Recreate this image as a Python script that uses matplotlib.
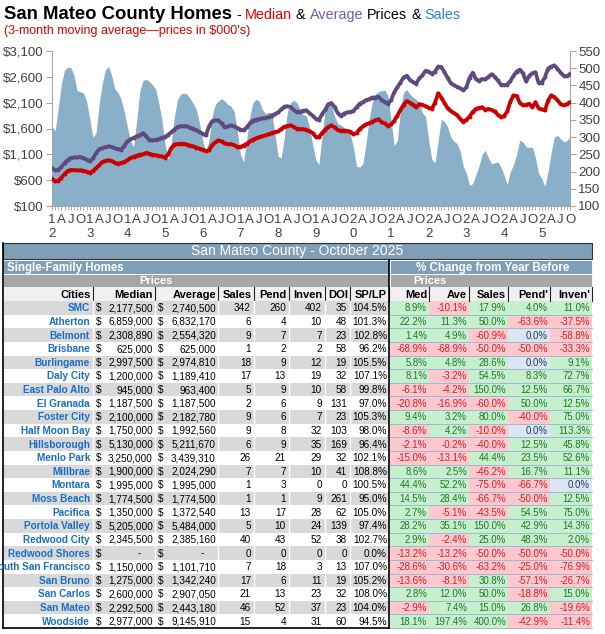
import matplotlib
matplotlib.use("Agg")
import matplotlib.pyplot as plt
from matplotlib.patches import Rectangle
import numpy as np

# ---- chart data: 3-month moving averages, Jan 2012 .. Oct 2025 ----
start_year = 2012
median = [
    630, 575, 590, 650, 720, 780, 800, 795, 790, 790, 785, 765,              # 2012
    740, 780, 830, 890, 950, 975, 985, 970, 940, 920, 935, 950,              # 2013
    990, 1030, 1050, 1075, 1095, 1100, 1130, 1115, 1095, 1080, 1070, 1060,   # 2014
    1035, 1100, 1220, 1290, 1300, 1305, 1305, 1290, 1270, 1255, 1230, 1210,  # 2015
    1190, 1165, 1180, 1280, 1330, 1370, 1350, 1310, 1300, 1295, 1280, 1245,  # 2016
    1245, 1270, 1305, 1350, 1385, 1410, 1435, 1450, 1465, 1490, 1515, 1530,  # 2017
    1545, 1590, 1635, 1650, 1660, 1630, 1595, 1590, 1585, 1577, 1550, 1515,  # 2018
    1440, 1430, 1510, 1580, 1630, 1660, 1620, 1570, 1560, 1560, 1555, 1540,  # 2019
    1490, 1510, 1590, 1640, 1680, 1700, 1730, 1760, 1780, 1720, 1700, 1650,  # 2020
    1680, 1750, 1850, 1960, 2060, 2130, 2100, 2060, 2010, 2070, 2060, 2030,  # 2021
    2000, 1985, 2100, 2280, 2200, 2100, 1990, 1940, 1900, 1860, 1790, 1730,  # 2022
    1770, 1830, 1920, 1980, 2000, 2010, 1960, 1980, 1960, 1930, 1870, 1820,  # 2023
    1840, 1930, 2120, 2240, 2230, 2100, 2050, 2060, 2080, 2010, 2110, 1990,  # 2024
    1970, 1950, 2140, 2240, 2210, 2150, 2070, 2050, 2070, 2110,              # 2025
]
average = [
    835, 790, 800, 860, 930, 990, 1030, 1040, 1040, 1048, 1030, 1000,
    970, 1020, 1120, 1200, 1220, 1240, 1255, 1240, 1220, 1200, 1190, 1260,
    1350, 1390, 1420, 1450, 1470, 1510, 1450, 1380, 1370, 1380, 1395, 1420,
    1435, 1480, 1530, 1580, 1630, 1645, 1645, 1640, 1615, 1595, 1565, 1530,
    1500, 1465, 1640, 1740, 1760, 1755, 1700, 1620, 1640, 1660, 1640, 1615,
    1580, 1565, 1620, 1700, 1750, 1770, 1785, 1795, 1805, 1820, 1850, 1880,
    1910, 1970, 2025, 2030, 2015, 1960, 1920, 1925, 1945, 1950, 1900, 1850,
    1790, 1760, 1880, 1960, 2070, 2090, 2020, 1900, 1840, 1890, 1910, 1920,
    1940, 2010, 2080, 2110, 2150, 2165, 2200, 2200, 2215, 2150, 2110, 2080,
    2150, 2300, 2400, 2490, 2590, 2620, 2540, 2500, 2470, 2570, 2630, 2720,
    2700, 2660, 2700, 2800, 2790, 2690, 2580, 2480, 2440, 2410, 2380, 2340,
    2400, 2580, 2680, 2560, 2520, 2560, 2550, 2600, 2650, 2600, 2530, 2450,
    2440, 2450, 2520, 2620, 2700, 2740, 2670, 2510, 2620, 2670, 2690, 2480,
    2490, 2590, 2760, 2800, 2820, 2760, 2680, 2620, 2610, 2660,
]
sales = [
    331, 318, 385, 455, 495, 503, 502, 480, 435, 432, 428, 405,
    355, 300, 310, 395, 455, 495, 505, 480, 440, 430, 410, 375,
    330, 290, 272, 350, 435, 465, 468, 462, 452, 440, 400, 350,
    280, 235, 285, 360, 410, 425, 428, 425, 412, 398, 380, 340,
    290, 258, 290, 360, 395, 405, 412, 405, 395, 390, 375, 320,
    250, 228, 290, 360, 400, 410, 405, 380, 368, 372, 370, 310,
    245, 240, 300, 375, 400, 407, 400, 380, 365, 362, 330, 280,
    235, 220, 300, 380, 405, 395, 360, 340, 335, 328, 322, 310,
    270, 215, 213, 222, 280, 350, 400, 425, 432, 435, 436, 421,
    350, 275, 290, 380, 430, 438, 425, 416, 410, 400, 370, 360,
    290, 235, 225, 290, 352, 345, 330, 300, 288, 282, 260, 215,
    195, 160, 165, 190, 215, 250, 262, 240, 223, 225, 228, 213,
    190, 162, 200, 220, 250, 291, 286, 272, 270, 271, 240, 195,
    180, 157, 200, 255, 300, 305, 295, 286, 290, 300,
]

# ---- table data ----
cities = ["SMC", "Atherton", "Belmont", "Brisbane", "Burlingame", "Daly City",
          "East Palo Alto", "El Granada", "Foster City", "Half Moon Bay",
          "Hillsborough", "Menlo Park", "Millbrae", "Montara", "Moss Beach",
          "Pacifica", "Portola Valley", "Redwood City", "Redwood Shores",
          "South San Francisco", "San Bruno", "San Carlos", "San Mateo", "Woodside"]
med_price = [2177500, 6859000, 2308890, 625000, 2997500, 1200000, 945000, 1187500,
             2100000, 1750000, 5130000, 3250000, 1900000, 1995000, 1774500, 1350000,
             5205000, 2345500, 0, 1150000, 1275000, 2600000, 2292500, 2977000]
avg_price = [2740500, 6832170, 2554320, 625000, 2974810, 1189410, 963400, 1187500,
             2182780, 1992560, 5211670, 3439310, 2024290, 1995000, 1774500, 1372540,
             5484000, 2385160, 0, 1101710, 1342240, 2907050, 2443180, 9145910]
n_sales = [342, 6, 9, 1, 18, 17, 5, 2, 9, 9, 6, 26, 7, 1, 1, 13, 5, 40, 0, 7, 17, 21, 46, 15]
n_pend = [260, 4, 7, 2, 9, 13, 9, 6, 6, 8, 9, 21, 7, 3, 1, 17, 10, 43, 0, 18, 6, 13, 52, 4]
n_inven = [402, 10, 7, 2, 12, 19, 10, 9, 7, 32, 35, 29, 10, 0, 9, 28, 24, 52, 0, 3, 11, 23, 37, 31]
doi = [35, 48, 23, 58, 19, 32, 58, 131, 23, 103, 169, 32, 41, 0, 261, 62, 139, 38, 0, 13, 19, 32, 23, 60]
sp_lp = [104.5, 101.3, 102.8, 96.2, 105.5, 107.1, 99.8, 97.0, 105.3, 98.0, 96.4, 102.1,
         108.8, 100.5, 95.0, 105.0, 97.4, 102.7, 0.0, 107.0, 105.2, 108.0, 104.0, 94.5]
chg_med = [8.9, 22.2, 1.4, -68.9, 5.8, 8.1, -6.1, -20.8, 9.4, -8.6, -2.1, -15.0,
           8.6, 44.4, 14.5, 2.7, 28.2, 2.9, -13.2, -28.6, -13.6, 2.8, -2.9, 18.1]
chg_ave = [-10.1, 11.3, 4.9, -68.9, 4.8, -3.2, -4.2, -16.9, 3.2, 4.2, -0.2, -13.1,
           2.5, 52.2, 28.4, -5.1, 35.1, -2.4, -13.2, -30.6, -8.1, 12.0, 7.4, 197.4]
chg_sales = [17.9, 50.0, -60.9, -50.0, 28.6, 54.5, 150.0, -60.0, 80.0, -10.0, -40.0, 44.4,
             -46.2, -75.0, -66.7, -43.5, 150.0, 25.0, -50.0, -63.2, 30.8, 50.0, 15.0, 400.0]
chg_pend = [4.0, -63.6, 0.0, -50.0, 0.0, 8.3, 12.5, 50.0, -40.0, 0.0, 12.5, 23.5,
            16.7, -66.7, -50.0, 54.5, 42.9, 48.3, -50.0, -25.0, -57.1, -18.8, 26.8, -42.9]
chg_inven = [11.0, -37.5, -58.8, -33.3, 9.1, 72.7, 66.7, 12.5, 75.0, 113.3, 45.8, 52.6,
             11.1, 0.0, 12.5, 75.0, 14.3, 2.0, -50.0, -76.9, -26.7, 15.0, -19.6, -11.4]

# ---- styling ----
plt.rcParams["font.family"] = ["Liberation Sans", "DejaVu Sans"]

RED = "#cc0000"
PURPLE = "#5f4a80"
AREA = "#8aafc9"
SPINE = "#a6a6a6"
TXT = "#404040"
BAR = "#7f9fb8"

W, H = 605, 634
fig = plt.figure(figsize=(W / 100, H / 100), dpi=100)


def box(x0, y0, x1, y1):
    return [x0 / W, 1 - y1 / H, (x1 - x0) / W, (y1 - y0) / H]


# ---- chart: sales area (right scale) under price lines (left scale) ----
x = np.arange(len(sales))
ax = fig.add_axes(box(52, 51, 570, 206))
ax.fill_between(x, 100, sales, color=AREA, lw=0)
ax.set_ylim(100, 550)
ax.set_xlim(0, len(sales) - 1)
ax.set_yticks(range(100, 551, 50))
ax.spines["top"].set_visible(False)
for s in ["left", "right", "bottom"]:
    ax.spines[s].set_color(SPINE)

major = list(range(0, len(sales), 3))
labels = []
for m in major:
    if m % 12 == 0:
        yy = str(start_year + m // 12)[2:]
        labels.append(yy[0] + "\n" + yy[1])
    else:
        labels.append("AJO"[(m % 12) // 3 - 1])
ax.set_xticks(major)
ax.set_xticklabels(labels, linespacing=1.15)
ax.set_xticks(x, minor=True)
ax.tick_params(axis="x", which="both", direction="out", length=3, color=SPINE,
               labelsize=9.5, labelcolor=TXT, pad=3)

axp = ax.twinx()
axp.plot(x, median, color=RED, lw=2.7, marker="o", ms=2.8, mew=0, solid_joinstyle="round")
axp.plot(x, average, color=PURPLE, lw=2.7, marker="o", ms=2.8, mew=0, solid_joinstyle="round")
axp.set_ylim(100, 3100)
axp.set_yticks(range(100, 3101, 500))
axp.set_yticklabels([f"${v:,}" for v in range(100, 3101, 500)])
for s in axp.spines.values():
    s.set_visible(False)

# twinx moves the original ticks to the left, so swap them back here
ax.yaxis.tick_right()
axp.yaxis.tick_left()
ax.tick_params(axis="y", direction="out", length=4, color=SPINE,
               labelsize=9.5, labelcolor=TXT, pad=2)
axp.tick_params(axis="y", direction="out", length=4, color=SPINE,
                labelsize=9.5, labelcolor=TXT, pad=2)

# ---- overlay in pixel coordinates ----
ov = fig.add_axes([0, 0, 1, 1])
ov.set_xlim(0, W)
ov.set_ylim(H, 0)
ov.axis("off")
rend = fig.canvas.get_renderer()


def run_text(x0, y0, parts):
    for s, c, wt, fs, gap in parts:
        t = ov.text(x0, y0, s, color=c, fontsize=fs, fontweight=wt, va="baseline", ha="left")
        x0 += t.get_window_extent(renderer=rend).width + gap


run_text(4, 19, [("San Mateo County Homes", "black", "bold", 13.3, 4),
                 ("-", "black", "normal", 10.4, 4),
                 ("Median", "#e00000", "normal", 10.4, 4),
                 ("&", "black", "normal", 10.4, 4),
                 ("Average", "#7a5aa6", "normal", 10.4, 4),
                 ("Prices", "black", "normal", 10.4, 4),
                 ("&", "black", "normal", 10.4, 4),
                 ("Sales", "#2a86d0", "normal", 10.4, 0)])
ov.text(4, 34, "(3-month moving average\u2014prices in $000's)", color="#e00000",
        fontsize=9, va="baseline", ha="left")

# ---- table ----
L, R, MID = 3, 592, 389
ov.add_patch(Rectangle((L, 243), R - L, 16, fc=BAR, ec="#333333", lw=0.8))
ov.text((L + R) / 2, 251.5, "San Mateo County - October 2025", color="white",
        fontsize=10, ha="center", va="center")

ov.add_patch(Rectangle((L, 260), MID - L, 14, fc=BAR, ec="white", lw=0.6))
ov.add_patch(Rectangle((MID + 1, 260), R - MID - 1, 14, fc=BAR, ec="white", lw=0.6))
ov.text(7, 267.5, "Single-Family Homes", color="white", fontsize=8.3,
        fontweight="bold", ha="left", va="center")
ov.text((MID + R) / 2 + 2, 267.5, "% Change from Year Before", color="white", fontsize=8.4,
        fontweight="bold", ha="center", va="center")

ov.add_patch(Rectangle((L, 274), MID - L, 13, fc="#a6a6a6", ec="white", lw=0.6))
ov.add_patch(Rectangle((MID + 1, 274), R - MID - 1, 13, fc="#a6a6a6", ec="white", lw=0.6))
ov.text(156, 281, "Prices", color="white", fontsize=8, fontweight="bold",
        ha="center", va="center")
ov.text(430, 281, "Prices", color="white", fontsize=8, fontweight="bold",
        ha="center", va="center")

left_cols = [L, 93, 155, 218, 254, 289, 325, 350, MID]
right_cols = [MID + 1, 429, 469, 508, 550, R]
heads_l = ["Cities", "Median", "Average", "Sales", "Pend", "Inven", "DOI", "SP/LP"]
heads_r = ["Med", "Ave", "Sales", "Pend'", "Inven'"]
HY0, HY1 = 287, 301
ov.add_patch(Rectangle((L, HY0), R - L, HY1 - HY0, fc="#f0f0f0", ec="none"))
for i, h in enumerate(heads_l):
    ov.text(left_cols[i + 1] - 2, (HY0 + HY1) / 2 + 0.5, h, fontsize=8,
            fontweight="bold", ha="right", va="center", color="black")
    ov.plot([left_cols[i + 1]] * 2, [HY0, HY1], color="#222222", lw=0.8)
for i, h in enumerate(heads_r):
    ov.text(right_cols[i + 1] - 2, (HY0 + HY1) / 2 + 0.5, h, fontsize=8,
            fontweight="bold", ha="right", va="center", color="black")
    ov.plot([right_cols[i + 1]] * 2, [HY0, HY1], color="#222222", lw=0.8)

RH = 13.625
Y0 = 301
clip = Rectangle((L, 243), R - L, 400, transform=ov.transData)
FS = 7.2
PFS = 6.9


def money(v):
    return f"{v:,}" if v else "-"


def pct_cell(x0, x1, y, v):
    if v > 0:
        fc, tc = "#c6efce", "#1f7a1f"
    elif v < 0:
        fc, tc = "#ffc7ce", "#d42020"
    else:
        fc, tc = "#dce6f1", "#1f3a5f"
    ov.add_patch(Rectangle((x0, y), x1 - x0, RH, fc=fc, ec="none"))
    ov.text(x1 - 2, y + RH / 2 + 0.5, f"{v:.1f}%", color=tc, fontsize=PFS,
            ha="right", va="center")


for r, city in enumerate(cities):
    y = Y0 + r * RH
    yc = y + RH / 2 + 0.5
    fc = "#d9d9d9" if r % 2 == 0 else "white"
    ov.add_patch(Rectangle((L, y), MID - L, RH, fc=fc, ec="none"))
    for cx in left_cols[1:-1]:
        ov.plot([cx, cx], [y, y + RH], color="white", lw=1.0)
    t = ov.text(left_cols[1] - 3, yc, city, color="#1a6fc4", fontsize=7.2,
                fontweight="bold", ha="right", va="center")
    t.set_clip_path(clip)
    for ci, vals in ((1, med_price), (2, avg_price)):
        x0, x1 = left_cols[ci], left_cols[ci + 1]
        ov.text(x0 + 3, yc, "$", fontsize=FS, ha="left", va="center")
        off = 2 if vals[r] else 14
        ov.text(x1 - off, yc, money(vals[r]), fontsize=FS, ha="right", va="center")
    for ci, vals in ((3, n_sales), (4, n_pend), (5, n_inven), (6, doi)):
        ov.text(left_cols[ci + 1] - 3, yc, str(vals[r]), fontsize=FS,
                ha="right", va="center")
    ov.text(left_cols[8] - 2, yc, f"{sp_lp[r]:.1f}%", fontsize=FS,
            ha="right", va="center")
    for ci, vals in enumerate((chg_med, chg_ave, chg_sales, chg_pend, chg_inven)):
        pct_cell(right_cols[ci], right_cols[ci + 1], y, vals[r])
    ov.plot([MID + 1, R], [y + RH, y + RH], color="#9db8d6", lw=0.7)

YB = Y0 + len(cities) * RH
ov.plot([L, L], [243, YB], color="black", lw=1.2)
ov.plot([L, MID], [YB, YB], color="black", lw=1.2)
ov.plot([MID, MID], [260, YB], color="black", lw=1.2)

fig.savefig("out.png", dpi=100)
